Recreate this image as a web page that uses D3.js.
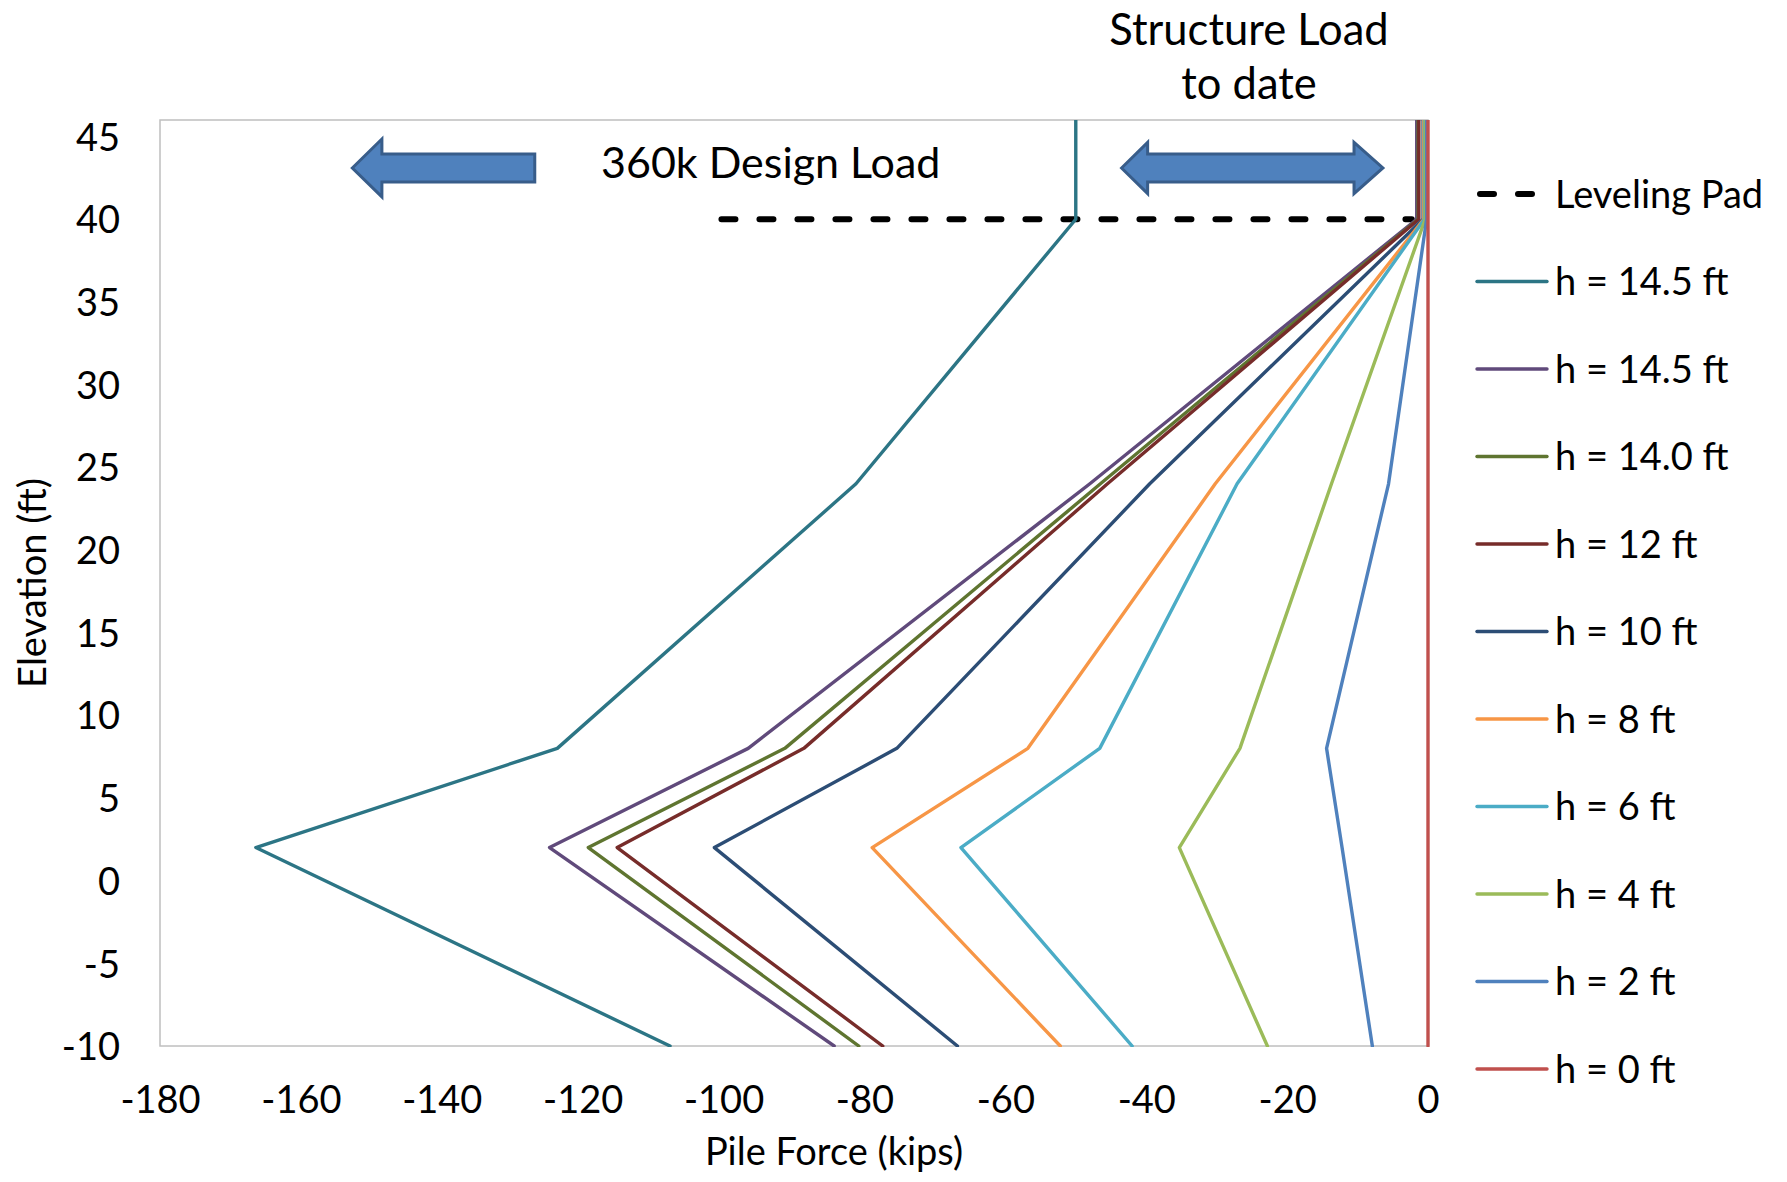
<!DOCTYPE html>
<html>
<head>
<meta charset="utf-8">
<script src="https://cdn.jsdelivr.net/npm/d3@7"></script>
<style>
  html, body { margin: 0; padding: 0; background: #ffffff; }
  svg text { font-family: Lato, "Open Sans", sans-serif; fill: #000; }
</style>
</head>
<body>
<svg id="chart" width="1787" height="1182"></svg>
<script>
// Elevations (ft) at which pile force was evaluated
const elevations = [46, 40, 24, 8, 2, -10];

// Pile force (kips) per excavation depth, one value per elevation above
const h145a = [-50, -50, -81.2, -123.6, -166.4, -107.6];
const h145b = [-1.6, -1.6, -48.0, -96.5, -124.7, -84.3];
const h140  = [-1.4, -1.4, -46.5, -91.3, -119.2, -80.8];
const h12   = [-1.3, -1.3, -45.5, -88.6, -115.1, -77.4];
const h10   = [-0.7, -0.7, -39.5, -75.4, -101.3, -66.8];
const h8    = [-0.6, -0.6, -30.2, -56.8, -78.9, -52.2];
const h6    = [-0.5, -0.5, -27.1, -46.6, -66.3, -42.0];
const h4    = [-0.4, -0.4, -13.7, -26.7, -35.3, -22.8];
const h2    = [-0.2, -0.2, -5.6, -14.4, -12.2, -7.9];
const h0    = [0, 0, 0, 0, 0, 0];

const seriesNames  = ["h = 14.5 ft", "h = 14.5 ft", "h = 14.0 ft", "h = 12 ft", "h = 10 ft",
                      "h = 8 ft", "h = 6 ft", "h = 4 ft", "h = 2 ft", "h = 0 ft"];
const seriesValues = [h145a, h145b, h140, h12, h10, h8, h6, h4, h2, h0];
const seriesColors = ["#2C7585", "#604A7B", "#5F7530", "#772C2A", "#2C4D75",
                      "#F79646", "#4BACC6", "#9BBB59", "#4F81BD", "#C0504D"];

// Leveling pad reference line
const padElevation = 40;
const padExtent = [-100.3, -2.3];

// Axis ticks
const xTicks = [-180, -160, -140, -120, -100, -80, -60, -40, -20, 0];
const yTicks = [45, 40, 35, 30, 25, 20, 15, 10, 5, 0, -5, -10];

const svg = d3.select("#chart");
const plot = { left: 160, right: 1428, top: 120, bottom: 1046 };

const x = d3.scaleLinear().domain([-180, 0]).range([plot.left, plot.right]);
const y = d3.scaleLinear().domain([-10, 46]).range([plot.bottom, plot.top]);

// Plain hyphen-minus, as in spreadsheet number formats
const fmt = d => String(d);

svg.append("rect").attr("width", 1787).attr("height", 1182).attr("fill", "#fff");

// Clip series to the plot area (a little slack on the right so the zero line keeps its full width)
svg.append("defs").append("clipPath").attr("id", "plotClip")
  .append("rect")
  .attr("x", plot.left).attr("y", plot.top)
  .attr("width", plot.right - plot.left + 4).attr("height", plot.bottom - plot.top + 1);

// Plot area frame
svg.append("rect")
  .attr("x", plot.left).attr("y", plot.top)
  .attr("width", plot.right - plot.left).attr("height", plot.bottom - plot.top)
  .attr("fill", "none").attr("stroke", "#BFBFBF").attr("stroke-width", 1.5);

// Axes (labels only, no tick marks)
const xAxis = d3.axisBottom(x).tickValues(xTicks).tickSize(0).tickPadding(0).tickFormat(fmt);
const gx = svg.append("g").attr("transform", `translate(0,${plot.bottom})`).call(xAxis);
gx.select(".domain").remove();
gx.selectAll("text")
  .attr("y", 67).attr("dy", null)
  .style("font-size", "38px").style("font-family", "Lato, sans-serif").attr("fill", "#000");

const yAxis = d3.axisLeft(y).tickValues(yTicks).tickSize(0).tickPadding(0).tickFormat(fmt);
const gy = svg.append("g").attr("transform", `translate(${plot.left},0)`).call(yAxis);
gy.select(".domain").remove();
gy.selectAll("text")
  .attr("x", -40).attr("dy", "0.36em")
  .style("font-size", "38px").style("font-family", "Lato, sans-serif").attr("fill", "#000");

// Axis titles
svg.append("text")
  .attr("x", 834).attr("y", 1165)
  .attr("text-anchor", "middle")
  .style("font-size", "38px")
  .text("Pile Force (kips)");

svg.append("text")
  .attr("transform", "translate(46,583) rotate(-90)")
  .attr("text-anchor", "middle")
  .style("font-size", "38px")
  .text("Elevation (ft)");

// Series lines
const line = d3.line()
  .x(d => x(d[0]))
  .y(d => y(d[1]));

const plotG = svg.append("g").attr("clip-path", "url(#plotClip)");

// Leveling pad dashed line
plotG.append("line")
  .attr("x1", x(padExtent[0])).attr("x2", x(padExtent[1]))
  .attr("y1", y(padElevation)).attr("y2", y(padElevation))
  .attr("stroke", "#000").attr("stroke-width", 6)
  .attr("stroke-linecap", "round")
  .attr("stroke-dasharray", "14 24");

seriesValues.forEach((vals, i) => {
  const pts = vals.map((v, j) => [v, elevations[j]]);
  plotG.append("path")
    .datum(pts)
    .attr("d", line)
    .attr("fill", "none")
    .attr("stroke", seriesColors[i])
    .attr("stroke-width", 3.4)
    .attr("stroke-linejoin", "round")
    .attr("stroke-linecap", "round");
});

// Block arrow annotations (positioned in data units)
const arrowFill = "#4F81BD", arrowStroke = "#385D8A";
const arrowY = 43.1;        // elevation of arrow centreline
const headHalf = 1.75;      // ft
const shaftHalf = 0.85;     // ft

function arrowPath(points) {
  return "M" + points.map(p => `${x(p[0])},${y(p[1])}`).join("L") + "Z";
}

// Left-pointing arrow: design load direction
const designArrow = { tip: -152.7, headBack: -148.5, tail: -126.8 };
svg.append("path")
  .attr("d", arrowPath([
    [designArrow.tip, arrowY],
    [designArrow.headBack, arrowY + headHalf],
    [designArrow.headBack, arrowY + shaftHalf],
    [designArrow.tail, arrowY + shaftHalf],
    [designArrow.tail, arrowY - shaftHalf],
    [designArrow.headBack, arrowY - shaftHalf],
    [designArrow.headBack, arrowY - headHalf]
  ]))
  .attr("fill", arrowFill).attr("stroke", arrowStroke).attr("stroke-width", 3)
  .attr("stroke-linejoin", "miter");

// Double-headed arrow: structure load range to date
const loadArrow = { leftTip: -43.5, leftBack: -39.8, rightBack: -10.5, rightTip: -6.4 };
const hh2 = 1.55;
svg.append("path")
  .attr("d", arrowPath([
    [loadArrow.leftTip, arrowY],
    [loadArrow.leftBack, arrowY + hh2],
    [loadArrow.leftBack, arrowY + shaftHalf],
    [loadArrow.rightBack, arrowY + shaftHalf],
    [loadArrow.rightBack, arrowY + hh2],
    [loadArrow.rightTip, arrowY],
    [loadArrow.rightBack, arrowY - hh2],
    [loadArrow.rightBack, arrowY - shaftHalf],
    [loadArrow.leftBack, arrowY - shaftHalf],
    [loadArrow.leftBack, arrowY - hh2]
  ]))
  .attr("fill", arrowFill).attr("stroke", arrowStroke).attr("stroke-width", 3)
  .attr("stroke-linejoin", "miter");

// Text annotations
svg.append("text")
  .attr("x", 601).attr("y", 178)
  .style("font-size", "43px")
  .text("360k Design Load");

svg.append("text")
  .attr("x", 1249).attr("y", 45)
  .attr("text-anchor", "middle")
  .style("font-size", "43.5px")
  .text("Structure Load");
svg.append("text")
  .attr("x", 1249).attr("y", 99)
  .attr("text-anchor", "middle")
  .style("font-size", "43.5px")
  .text("to date");

// Legend
const legend = svg.append("g");
const legX0 = 1477, legX1 = 1547, legTextX = 1555;
const legY0 = 194, legStep = 87.5;

legend.append("line")
  .attr("x1", legX0 + 3).attr("x2", legX0 + 58)
  .attr("y1", legY0).attr("y2", legY0)
  .attr("stroke", "#000").attr("stroke-width", 6)
  .attr("stroke-linecap", "round")
  .attr("stroke-dasharray", "14 24");
legend.append("text")
  .attr("x", legTextX).attr("y", legY0).attr("dy", "0.36em")
  .style("font-size", "38px")
  .text("Leveling Pad");

seriesNames.forEach((name, i) => {
  const ly = legY0 + legStep * (i + 1);
  legend.append("line")
    .attr("x1", legX0).attr("x2", legX1)
    .attr("y1", ly).attr("y2", ly)
    .attr("stroke", seriesColors[i]).attr("stroke-width", 3.4)
    .attr("stroke-linecap", "round");
  legend.append("text")
    .attr("x", legTextX).attr("y", ly).attr("dy", "0.36em")
    .style("font-size", "38px")
    .text(name);
});
</script>
</body>
</html>
